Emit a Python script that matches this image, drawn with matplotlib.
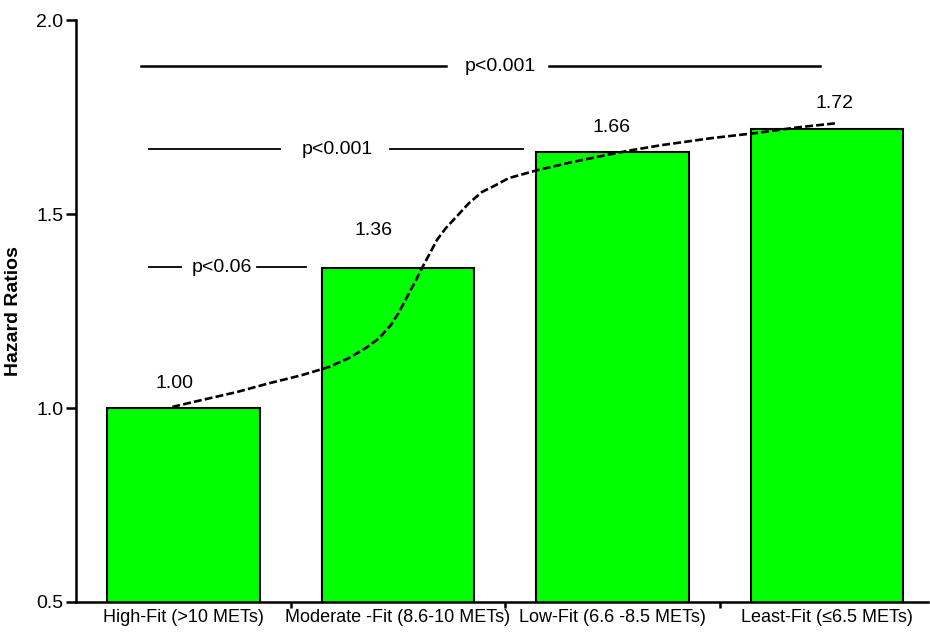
import matplotlib.pyplot as plt

plt.rcParams['font.family'] = ['Liberation Sans', 'DejaVu Sans']

categories = ['High-Fit (>10 METs)', 'Moderate -Fit (8.6-10 METs)',
              'Low-Fit (6.6 -8.5 METs)', 'Least-Fit (≤6.5 METs)']
hazard = [1.00, 1.36, 1.66, 1.72]
value_labels = ['1.00', '1.36', '1.66', '1.72']

# dashed trend curve (x in bar index units)
trend_x = [-0.051, 0.088, 0.247, 0.400, 0.553, 0.679, 0.772, 0.851, 0.912,
           0.967, 1.005, 1.042, 1.084, 1.112, 1.144, 1.181, 1.223, 1.270,
           1.330, 1.391, 1.456, 1.516, 1.647, 1.809, 1.967, 2.088, 2.228,
           2.460, 2.665, 2.865, 3.051]
trend_y = [1.003, 1.021, 1.041, 1.064, 1.085, 1.106, 1.129, 1.155, 1.180,
           1.214, 1.247, 1.286, 1.330, 1.361, 1.394, 1.433, 1.464, 1.492,
           1.528, 1.557, 1.575, 1.593, 1.613, 1.634, 1.652, 1.665, 1.678,
           1.696, 1.709, 1.724, 1.735]

# significance brackets: y, left segment, right segment, label x
p_texts = ['p<0.001', 'p<0.001', 'p<0.06']
p_y = [1.881, 1.667, 1.363]
p_left = [(-0.195, 1.223), (-0.158, 0.451), (-0.158, -0.009)]
p_right = [(1.702, 2.967), (0.963, 1.581), (0.344, 0.572)]
p_textx = [1.479, 0.716, 0.181]
p_lw = [1.8, 1.3, 1.3]

fig = plt.figure(figsize=(9.3, 6.33), dpi=100)
ax = fig.add_axes([0.0817, 0.049, 0.9163, 0.919])

x = range(len(categories))
ax.bar(x, hazard, width=0.71, bottom=0, color='#00ff00', edgecolor='black',
       linewidth=1.5, zorder=2)

ax.plot(trend_x, trend_y, color='black', linestyle=(0, (3, 1.2)), lw=1.9,
        zorder=3, solid_joinstyle='round')

# value labels above bars
lab_x = [-0.04, 0.888, 1.995, 3.033]
lab_y = [1.064, 1.459, 1.724, 1.786]
for lx, ly, t in zip(lab_x, lab_y, value_labels):
    ax.text(lx, ly, t, ha='center', va='center', fontsize=14)

for t, y, l, r, tx, lw in zip(p_texts, p_y, p_left, p_right, p_textx, p_lw):
    ax.plot(l, [y, y], color='black', lw=lw)
    ax.plot(r, [y, y], color='black', lw=lw)
    ax.text(tx, y, t, ha='center', va='center', fontsize=14)

ax.set_ylim(0.5, 2.0)
ax.set_xlim(-0.5, 3.47)
ax.set_yticks([0.5, 1.0, 1.5, 2.0])
ax.set_yticklabels(['0.5', '1.0', '1.5', '2.0'], fontsize=14)
ax.set_xticks(list(x))
ax.set_xticklabels(categories, fontsize=13)
ax.set_xticks([0.5, 1.5, 2.5], minor=True)
ax.tick_params(axis='x', which='major', length=0, pad=5)
ax.tick_params(axis='x', which='minor', length=4.5, width=1.8, direction='out')
ax.tick_params(axis='y', length=7, width=1.8, direction='out', pad=2)

ax.set_ylabel('Hazard Ratios', fontsize=14, fontweight='bold', labelpad=10)

for side in ['top', 'right']:
    ax.spines[side].set_visible(False)
for side in ['left', 'bottom']:
    ax.spines[side].set_linewidth(1.8)

fig.savefig('out.png', dpi=100)
